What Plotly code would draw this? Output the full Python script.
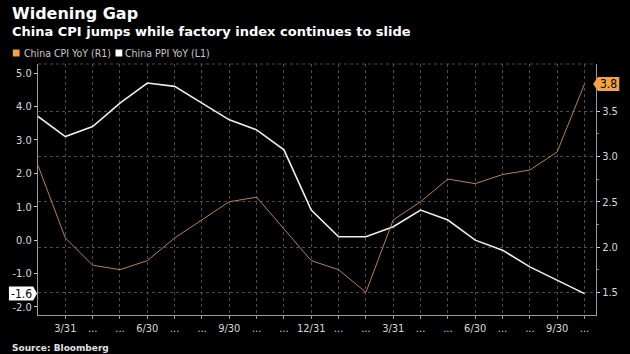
import plotly.graph_objects as go

months = ["2/28", "3/31", "4/30", "5/31", "6/30", "7/31", "8/31", "9/30", "10/31", "11/30", "12/31",
          "1/31", "2/28", "3/31", "4/30", "5/31", "6/30", "7/31", "8/31", "9/30", "10/31"]
tick_labels = ["3/31", "...", "...", "6/30", "...", "...", "9/30", "...", "...", "12/31",
               "...", "...", "3/31", "...", "...", "6/30", "...", "...", "9/30", "..."]
cpi = [2.9, 2.1, 1.8, 1.75, 1.85, 2.1, 2.3, 2.5, 2.55, 2.2, 1.85, 1.75, 1.5, 2.3, 2.5, 2.75, 2.7, 2.8, 2.85, 3.05, 3.8]
ppi = [3.7, 3.1, 3.4, 4.1, 4.7, 4.6, 4.1, 3.6, 3.3, 2.7, 0.9, 0.1, 0.1, 0.4, 0.9, 0.6, 0.0, -0.3, -0.8, -1.2, -1.6]
left_ticks = [-2, -1, 0, 1, 2, 3, 4, 5]
right_ticks = [1.5, 2.0, 2.5, 3.0, 3.5]

W, H = 630, 354
L, R, T, B = 30, 606, 64, 315
Y1 = (-2.24, 5.27)
Y2 = (1.25, 4.02)

def px(x):
    return (x - L) / (R - L)

def py(y):
    return (B - y) / (B - T)

u1 = (Y1[1] - Y1[0]) / (B - T)   # data units per px, left axis
u2 = (Y2[1] - Y2[0]) / (B - T)   # data units per px, right axis

ORANGE = "#f5a342"
CPI_LINE = "#b98050"
GRID = "#4d4d4d"
TXT = "#d8d8d8"
FONT = "DejaVu Sans Condensed, DejaVu Sans, sans-serif"

xi = list(range(len(months)))

fig = go.Figure()
fig.add_trace(go.Scatter(x=xi, y=cpi, yaxis="y2", mode="lines",
                         line=dict(color=CPI_LINE, width=1), name="China CPI YoY (R1)",
                         showlegend=False, hoverinfo="skip"))
fig.add_trace(go.Scatter(x=xi, y=ppi, yaxis="y", mode="lines",
                         line=dict(color="#eeeeee", width=1.6), name="China PPI YoY (L1)",
                         showlegend=False, hoverinfo="skip"))

fig.update_layout(
    width=W, height=H,
    margin=dict(l=L, r=W - R, t=T, b=H - B),
    paper_bgcolor="black", plot_bgcolor="black",
    font=dict(family=FONT, color=TXT, size=11),
    xaxis=dict(range=[0, 20.42], tickmode="array", tickvals=xi[1:], ticktext=tick_labels,
               showgrid=True, gridcolor=GRID, griddash="dot", gridwidth=1,
               showline=True, linecolor="#9a9a9a", linewidth=1,
               ticks="outside", ticklen=3, tickcolor="#9a9a9a",
               tickfont=dict(size=11, color=TXT), zeroline=False, fixedrange=True),
    yaxis=dict(range=list(Y1), tickmode="array", tickvals=left_ticks,
               ticktext=[f"{v:.1f}" for v in left_ticks],
               showgrid=False, zeroline=False,
               showline=True, linecolor="#9a9a9a", linewidth=1,
               ticks="outside", ticklen=3, tickcolor="#cccccc",
               tickfont=dict(size=11, color=TXT)),
    yaxis2=dict(range=list(Y2), overlaying="y", side="right", tickmode="array",
                tickvals=right_ticks, ticktext=[f"{v:.1f}" for v in right_ticks],
                showgrid=True, gridcolor=GRID, griddash="dot", gridwidth=1, zeroline=False,
                showline=True, linecolor="#9a9a9a", linewidth=1,
                ticks="outside", ticklen=3, tickcolor="#cccccc",
                minor=dict(tickmode="array", tickvals=[1.75, 2.25, 2.75, 3.25, 3.75],
                           ticks="outside", ticklen=2, tickcolor="#888888", showgrid=False),
                tickfont=dict(size=11, color=TXT)),
)

c_last, p_last = cpi[-1], ppi[-1]
shapes = [
    # top dotted border
    dict(type="line", xref="paper", yref="paper", x0=0, x1=1, y0=1, y1=1,
         line=dict(color=GRID, width=1, dash="dot")),
    # legend squares
    dict(type="rect", xref="paper", yref="paper", x0=px(4), x1=px(11), y0=py(56.5), y1=py(49.5),
         fillcolor=ORANGE, line=dict(width=0)),
    dict(type="rect", xref="paper", yref="paper", x0=px(110), x1=px(117), y0=py(56.5), y1=py(49.5),
         fillcolor="white", line=dict(width=0)),
    # right label box with arrow pointing left
    dict(type="path", xref="paper", yref="y2",
         path=(f"M {px(603)} {c_last} L {px(608)} {c_last + 7 * u2} L {px(630)} {c_last + 7 * u2} "
               f"L {px(630)} {c_last - 7 * u2} L {px(608)} {c_last - 7 * u2} Z"),
         fillcolor=ORANGE, line=dict(width=0), layer="above"),
    # left label box with arrow pointing right
    dict(type="path", xref="paper", yref="y",
         path=(f"M {px(0)} {p_last + 7 * u1} L {px(25)} {p_last + 7 * u1} L {px(29)} {p_last} "
               f"L {px(25)} {p_last - 7 * u1} L {px(0)} {p_last - 7 * u1} Z"),
         fillcolor="white", line=dict(width=0), layer="above"),
]

annotations = [
    dict(text="<b>Widening Gap</b>", xref="paper", yref="paper", x=px(1), y=py(14),
         xanchor="left", yanchor="middle", showarrow=False,
         font=dict(family="DejaVu Sans", size=16, color="white")),
    dict(text="<b>China CPI jumps while factory index continues to slide</b>", xref="paper", yref="paper",
         x=px(1), y=py(32), xanchor="left", yanchor="middle", showarrow=False,
         font=dict(family="DejaVu Sans", size=13, color="white")),
    dict(text="China CPI YoY (R1)", xref="paper", yref="paper", x=px(13), y=py(53),
         xanchor="left", yanchor="middle", showarrow=False,
         font=dict(family=FONT, size=10.5, color="#c8c8c8")),
    dict(text="China PPI YoY (L1)", xref="paper", yref="paper", x=px(118), y=py(53),
         xanchor="left", yanchor="middle", showarrow=False,
         font=dict(family=FONT, size=10.5, color="#c8c8c8")),
    dict(text="<b>Source: Bloomberg</b>", xref="paper", yref="paper", x=px(1), y=py(348),
         xanchor="left", yanchor="middle", showarrow=False,
         font=dict(family="DejaVu Sans", size=9, color="#e0e0e0")),
    # last value labels
    dict(text=f"{c_last:.1f}", xref="paper", yref="y2", x=px(619), y=c_last,
         xanchor="center", yanchor="middle", showarrow=False,
         font=dict(family=FONT, size=12, color="black")),
    dict(text=f"{p_last:.1f}", xref="paper", yref="y", x=px(13), y=p_last,
         xanchor="center", yanchor="middle", showarrow=False,
         font=dict(family=FONT, size=12, color="black")),
]
fig.update_layout(shapes=shapes, annotations=annotations)

fig.write_html("out.html")
